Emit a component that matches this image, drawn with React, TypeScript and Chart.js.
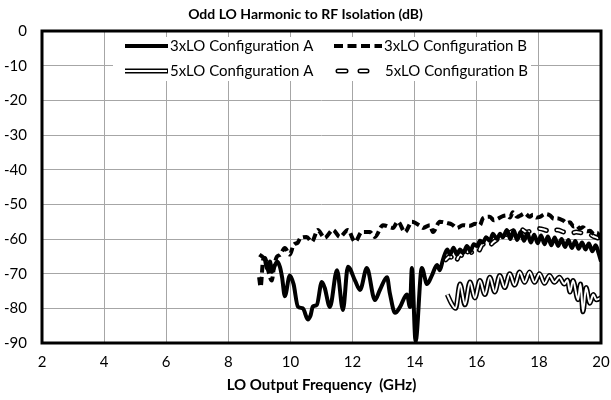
import React, { useEffect, useRef } from 'react';
import { Chart, registerables } from 'chart.js';

Chart.register(...registerables);

const chartTitle = 'Odd LO Harmonic to RF Isolation (dB)';
const xAxisTitle = 'LO Output Frequency  (GHz)';
const xTicks = [2, 4, 6, 8, 10, 12, 14, 16, 18, 20];
const yTicks = [0, -10, -20, -30, -40, -50, -60, -70, -80, -90];
const seriesNames = ['3xLO Configuration A', '3xLO Configuration B', '5xLO Configuration A', '5xLO Configuration B'];

// 3xLO Configuration A
const lo3A_f = [9.0, 9.08, 9.18, 9.24, 9.34, 9.4, 9.57, 9.66, 9.73, 9.82, 9.98, 10.1, 10.24, 10.4, 10.56, 10.65, 10.72, 10.85, 11.01, 11.1, 11.27, 11.5, 11.69, 11.85, 12.08, 12.24, 12.46, 12.72, 12.88, 13.11, 13.2, 13.37, 13.53, 13.75, 13.85, 13.91, 14.03, 14.23, 14.4, 14.56, 14.72, 14.81, 14.91, 15.05, 15.14, 15.25, 15.36, 15.46, 15.57, 15.68, 15.8, 15.9, 16.01, 16.1, 16.2, 16.3, 16.42, 16.52, 16.65, 16.75, 16.84, 16.97, 17.08, 17.19, 17.3, 17.41, 17.52, 17.63, 17.74, 17.85, 17.96, 18.07, 18.18, 18.29, 18.4, 18.51, 18.62, 18.73, 18.84, 18.95, 19.06, 19.17, 19.28, 19.39, 19.5, 19.61, 19.72, 19.83, 19.92, 20.0];
const lo3A_db = [-64.5, -65, -66, -68.5, -66.5, -69.5, -66.5, -68, -71, -76.5, -70.5, -73, -79.5, -80, -83.2, -82, -79.5, -79, -72.4, -74, -79.6, -69, -80.5, -68, -72, -74.7, -68.4, -77.6, -74.7, -71, -75.6, -81.3, -79.6, -76, -79.6, -68.4, -89.5, -68.4, -73, -70.4, -67.5, -69, -66, -63, -64.5, -62.5, -64.5, -63, -64, -62, -63.5, -61.5, -62, -60.5, -61, -59.5, -60.5, -58.5, -60, -58.5, -59.5, -57.4, -60, -57.5, -60.3, -58, -60.5, -58.3, -61, -58.8, -61.2, -59, -61.5, -59.3, -61.8, -59.6, -62, -60, -62.3, -60.3, -62.6, -60.6, -62.8, -61, -63, -61.3, -63.5, -61.8, -64, -66.5];

// 3xLO Configuration B
const lo3B_f = [8.99, 9.04, 9.12, 9.18, 9.28, 9.4, 9.47, 9.57, 9.66, 9.82, 9.98, 10.1, 10.24, 10.32, 10.52, 10.69, 10.88, 11.1, 11.37, 11.59, 11.85, 12.08, 12.3, 12.56, 12.72, 12.98, 13.3, 13.46, 13.69, 13.91, 14.17, 14.27, 14.49, 14.59, 14.81, 15.04, 15.2, 15.36, 15.55, 15.78, 15.95, 16.1, 16.2, 16.42, 16.55, 16.65, 16.84, 16.97, 17.07, 17.16, 17.3, 17.39, 17.55, 17.7, 17.81, 17.92, 18.03, 18.2, 18.36, 18.48, 18.58, 18.77, 18.9, 19.0, 19.12, 19.22, 19.32, 19.42, 19.55, 19.64, 19.78, 19.87, 20.0];
const lo3B_db = [-71, -73.8, -66, -65.5, -69, -72, -68, -65, -64.6, -62.6, -64.5, -61.7, -61, -59.7, -59.4, -60.8, -57.4, -59.7, -57.4, -59.4, -57.4, -60.8, -58, -58, -59.4, -56, -56.8, -55, -58, -55, -56.2, -56.8, -56, -58, -55, -55.4, -55.8, -56.8, -56, -56.2, -55.6, -56, -54, -53.6, -54.6, -54.3, -53.4, -53.2, -53.8, -52.3, -53.6, -53.3, -52.6, -53.6, -53, -53.8, -53.6, -52.8, -53.2, -54.2, -54, -54.6, -55.4, -55.2, -56.4, -56.2, -57, -56.6, -57.8, -57.6, -58.6, -58.2, -60];

// 5xLO Configuration A
const lo5A_f = [15.05, 15.18, 15.32, 15.46, 15.62, 15.78, 15.94, 16.1, 16.26, 16.42, 16.58, 16.74, 16.9, 17.06, 17.22, 17.38, 17.54, 17.7, 17.86, 18.02, 18.18, 18.34, 18.5, 18.66, 18.82, 18.92, 19.0, 19.1, 19.26, 19.34, 19.42, 19.52, 19.64, 19.75, 19.85, 20.0];
const lo5A_db = [-76, -78.5, -80, -73, -79, -72.4, -77, -72, -76, -71, -75.3, -70.5, -74, -70, -73.3, -69.5, -72.5, -69.5, -72.5, -70, -72.8, -70.5, -72.5, -71, -73, -71.8, -75.3, -72, -77.5, -73, -81, -74, -78.5, -76, -77.5, -77];

// 5xLO Configuration B
const lo5B_f = [15.0, 15.14, 15.3, 15.46, 15.62, 15.75, 15.9, 16.05, 16.2, 16.35, 16.52, 16.68, 16.84, 17.0, 17.2, 17.4, 17.6, 17.8, 18.0, 18.2, 18.4, 18.6, 18.8, 19.0, 19.2, 19.4, 19.6, 19.8, 20.0];
const lo5B_db = [-66, -65, -66.8, -64.5, -65.5, -63, -64.5, -63.7, -61.5, -62.5, -61, -60, -59, -58.5, -57.5, -57, -58, -57.4, -57, -57.4, -58, -57.4, -58, -58.5, -58, -58.3, -58.5, -59.4, -60];

const FONT = 'Lato, "Open Sans", sans-serif';

function pts(f: number[], v: number[]) {
  return f.map((x, i) => ({ x, y: v[i] }));
}

const framePlugin = {
  id: 'frameAndTitle',
  afterDraw(chart: any) {
    const { ctx, chartArea } = chart;
    ctx.save();
    // plot border
    ctx.strokeStyle = '#000';
    ctx.lineWidth = 3;
    ctx.strokeRect(chartArea.left, chartArea.top, chartArea.right - chartArea.left, chartArea.bottom - chartArea.top);
    // title
    ctx.fillStyle = '#000';
    ctx.font = 'bold 14px ' + FONT;
    ctx.textAlign = 'center';
    ctx.textBaseline = 'middle';
    ctx.fillText(chartTitle, chart.width / 2, 14);

    // legend
    const bx = 113, by = 37, bw = 418, bh = 44;
    ctx.fillStyle = '#fff';
    ctx.fillRect(bx, by, bw, bh);
    const r1 = 46, r2 = 71;
    ctx.lineCap = 'butt';
    // 3xLO A
    ctx.strokeStyle = '#000';
    ctx.lineWidth = 4;
    ctx.beginPath(); ctx.moveTo(125, r1); ctx.lineTo(168, r1); ctx.stroke();
    // 3xLO B
    ctx.setLineDash([9, 4.5]);
    ctx.beginPath(); ctx.moveTo(334, r1); ctx.lineTo(382, r1); ctx.stroke();
    ctx.setLineDash([]);
    // 5xLO A
    ctx.lineWidth = 5;
    ctx.beginPath(); ctx.moveTo(125, r2); ctx.lineTo(168, r2); ctx.stroke();
    ctx.strokeStyle = '#fff';
    ctx.lineWidth = 2;
    ctx.beginPath(); ctx.moveTo(125, r2); ctx.lineTo(167, r2); ctx.stroke();
    // 5xLO B
    ctx.lineCap = 'round';
    ctx.strokeStyle = '#000';
    ctx.lineWidth = 5;
    ctx.beginPath(); ctx.moveTo(338, r2); ctx.lineTo(346, r2); ctx.moveTo(360, r2); ctx.lineTo(367, r2); ctx.stroke();
    ctx.strokeStyle = '#fff';
    ctx.lineWidth = 2;
    ctx.beginPath(); ctx.moveTo(338, r2); ctx.lineTo(346, r2); ctx.moveTo(360, r2); ctx.lineTo(367, r2); ctx.stroke();

    ctx.fillStyle = '#000';
    ctx.font = '15px ' + FONT;
    ctx.textAlign = 'left';
    ctx.textBaseline = 'middle';
    ctx.fillText(seriesNames[0], 170, r1);
    ctx.fillText(seriesNames[1], 384, r1);
    ctx.fillText(seriesNames[2], 170, r2);
    ctx.fillText(seriesNames[3], 385, r2);
    ctx.restore();
  },
};

export default function App() {
  const ref = useRef<HTMLCanvasElement | null>(null);
  useEffect(() => {
    if (!ref.current) return;
    const common = { pointRadius: 0, fill: false, cubicInterpolationMode: 'monotone' as const, borderJoinStyle: 'round' as const };
    const chart = new Chart(ref.current, {
      type: 'line',
      data: {
        datasets: [
          { ...common, label: seriesNames[0], data: pts(lo3A_f, lo3A_db), borderColor: '#000', borderWidth: 4, order: 1 },
          { ...common, label: seriesNames[1], data: pts(lo3B_f, lo3B_db), borderColor: '#000', borderWidth: 4, borderDash: [8, 4], order: 2 },
          { ...common, label: seriesNames[2] + ' inner', data: pts(lo5A_f, lo5A_db), borderColor: '#fff', borderWidth: 2, order: 3 },
          { ...common, label: seriesNames[2], data: pts(lo5A_f, lo5A_db), borderColor: '#000', borderWidth: 5, order: 4 },
          { ...common, label: seriesNames[3] + ' inner', data: pts(lo5B_f, lo5B_db), borderColor: '#fff', borderWidth: 2, borderDash: [7, 11], borderCapStyle: 'round', order: 5 },
          { ...common, label: seriesNames[3], data: pts(lo5B_f, lo5B_db), borderColor: '#000', borderWidth: 5, borderDash: [7, 11], borderCapStyle: 'round', order: 6 },
        ],
      },
      options: {
        animation: false,
        responsive: false,
        layout: { padding: { left: 0, right: 10, top: 31, bottom: 0 } },
        plugins: { legend: { display: false }, title: { display: false }, tooltip: { enabled: false } },
        scales: {
          x: {
            type: 'linear',
            min: 2,
            max: 20,
            afterBuildTicks: (s: any) => { s.ticks = xTicks.map((v) => ({ value: v })); },
            afterFit: (s: any) => { s.height = 57; s.paddingLeft = 0; s.paddingRight = 0; },
            grid: { color: '#a6a6a6', lineWidth: 1, drawTicks: false },
            border: { display: false },
            ticks: { color: '#000', font: { family: FONT, size: 15 }, padding: 10, maxRotation: 0, autoSkip: false },
            title: { display: true, text: xAxisTitle, color: '#000', font: { family: FONT, size: 15, weight: 'bold' }, padding: { top: 0, bottom: 6 } },
          },
          y: {
            type: 'linear',
            min: -90,
            max: 0,
            afterBuildTicks: (s: any) => { s.ticks = yTicks.map((v) => ({ value: v })); },
            afterFit: (s: any) => { s.width = 42; s.paddingTop = 0; s.paddingBottom = 0; },
            grid: { color: '#a6a6a6', lineWidth: 1, drawTicks: false },
            border: { display: false },
            ticks: { color: '#000', font: { family: FONT, size: 15 }, padding: 15, autoSkip: false },
          },
        },
      },
      plugins: [framePlugin],
    });
    return () => chart.destroy();
  }, []);
  return (
    <div style={{ position: 'fixed', left: 0, top: 0, width: 611, height: 400, background: '#fff' }}>
      <canvas ref={ref} width={611} height={400} style={{ display: 'block' }} />
    </div>
  );
}
